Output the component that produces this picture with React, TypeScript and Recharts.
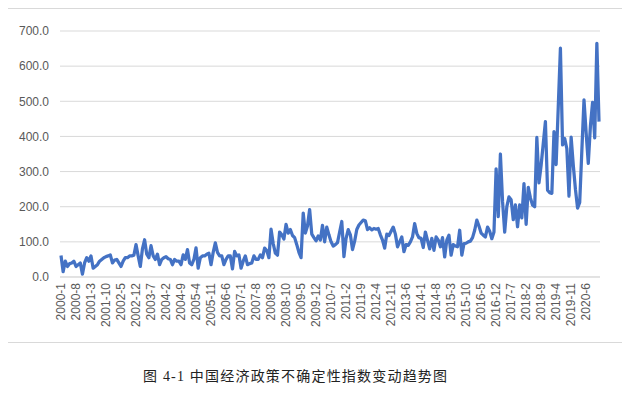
import { CartesianGrid, Line, LineChart, XAxis, YAxis } from "recharts";

// China EPU index, monthly 2000-1 .. 2020-12
const years = [
  2000, 2001, 2002, 2003, 2004, 2005, 2006, 2007, 2008, 2009, 2010,
  2011, 2012, 2013, 2014, 2015, 2016, 2017, 2018, 2019, 2020,
];

const epuValues = [
  61, 15, 45, 30, 38, 40, 45, 30, 35, 40, 8, 40, // 2000
  55, 45, 60, 25, 30, 35, 45, 50, 55, 58, 60, 63, // 2001
  40, 48, 50, 40, 30, 45, 55, 55, 60, 60, 62, 92, // 2002
  60, 30, 80, 106, 65, 55, 89, 60, 50, 65, 35, 50, // 2003
  55, 58, 52, 50, 35, 50, 45, 45, 35, 63, 50, 78, // 2004
  40, 35, 50, 83, 25, 55, 60, 60, 65, 68, 35, 70, // 2005
  97, 70, 60, 60, 35, 50, 60, 60, 23, 73, 60, 63, // 2006
  25, 45, 60, 35, 38, 40, 60, 50, 50, 63, 55, 82, // 2007
  75, 55, 136, 95, 68, 62, 128, 120, 108, 150, 125, 135, // 2008
  118, 112, 92, 70, 55, 182, 125, 145, 192, 122, 112, 103, // 2009
  117, 105, 147, 100, 142, 120, 100, 88, 92, 98, 128, 158, // 2010
  58, 110, 135, 120, 78, 102, 135, 148, 155, 162, 160, 135, // 2011
  140, 134, 138, 136, 138, 120, 105, 82, 122, 118, 130, 142, // 2012
  122, 86, 100, 114, 72, 92, 90, 100, 114, 152, 124, 112, // 2013
  110, 84, 128, 104, 80, 110, 76, 114, 105, 86, 112, 57, // 2014
  105, 119, 62, 92, 88, 86, 133, 62, 95, 96, 100, 102, // 2015
  112, 133, 162, 145, 125, 119, 114, 142, 130, 109, 128, 308, // 2016
  172, 350, 215, 128, 200, 228, 220, 163, 205, 143, 205, 168, // 2017
  266, 150, 255, 225, 205, 200, 397, 268, 318, 380, 442, 247, // 2018
  240, 238, 414, 320, 485, 651, 376, 394, 365, 230, 398, 318, // 2019
  250, 196, 212, 360, 504, 410, 323, 430, 497, 396, 665, 442, // 2020
];

const yTicks = [0, 100, 200, 300, 400, 500, 600, 700];

const months = years.flatMap((y) =>
  Array.from({ length: 12 }, (_, m) => `${y}-${m + 1}`)
);

const data = months.map((month, i) => ({ month, epu: epuValues[i] }));

const axisFont = "'Liberation Sans', Arial, sans-serif";
const axisGray = "#595959";

function MonthTick({ x, y, payload }: any) {
  return (
    <text
      x={x}
      y={y}
      dy="0.35em"
      transform={`rotate(-90, ${x}, ${y})`}
      textAnchor="end"
      fill={axisGray}
      fontSize={12}
      fontFamily={axisFont}
    >
      {payload.value}
    </text>
  );
}

export default function App() {
  return (
    <div
      style={{
        position: "relative",
        width: 630,
        height: 393,
        margin: -8,
        background: "#fff",
      }}
    >
      <div
        style={{
          position: "absolute",
          left: 7,
          top: 8,
          width: 617,
          height: 335,
          boxSizing: "border-box",
          border: "1px solid #d9d9d9",
        }}
      >
        <LineChart
          width={615}
          height={333}
          data={data}
          margin={{ top: 22, right: 23, bottom: 0, left: 0 }}
        >
          <CartesianGrid stroke="#d9d9d9" vertical={false} />
          <XAxis
            dataKey="month"
            interval={6}
            height={65}
            padding={{ left: 1, right: 1 }}
            tickLine={false}
            tickMargin={0}
            axisLine={{ stroke: "#d9d9d9" }}
            tick={<MonthTick />}
          />
          <YAxis
            width={52}
            domain={[0, 700]}
            ticks={yTicks}
            axisLine={false}
            tickLine={false}
            tickMargin={5}
            tickFormatter={(v: number) => v.toFixed(1)}
            tick={{ fill: axisGray, fontSize: 12, fontFamily: axisFont }}
          />
          <Line
            type="linear"
            dataKey="epu"
            stroke="#4472C4"
            strokeWidth={3.25}
            strokeLinejoin="round"
            dot={false}
            isAnimationActive={false}
          />
        </LineChart>
      </div>
      <div
        style={{
          position: "absolute",
          left: 143,
          top: 365,
          fontSize: 14,
          letterSpacing: 1.2,
          color: "#222",
          whiteSpace: "nowrap",
          fontFamily: "'Liberation Serif', 'Noto Sans CJK SC', serif",
        }}
      >
        图 4-1 中国经济政策不确定性指数变动趋势图
      </div>
    </div>
  );
}
